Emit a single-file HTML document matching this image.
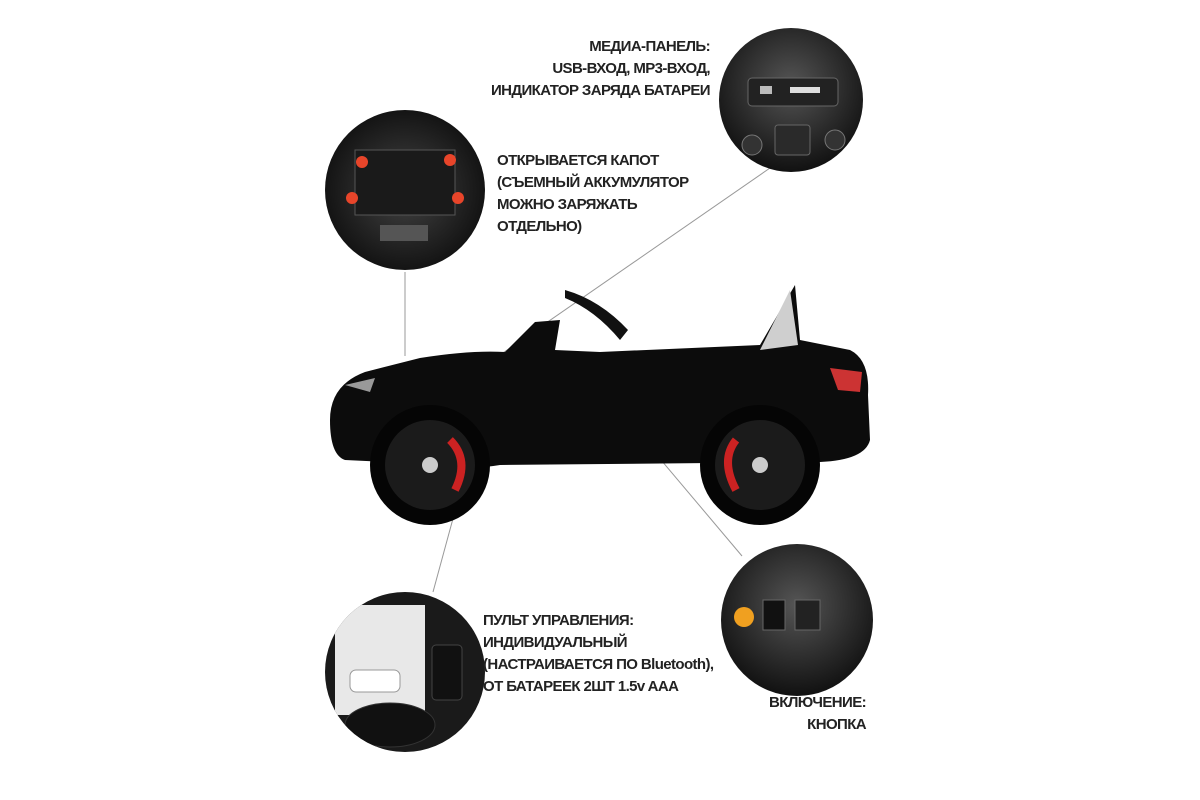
<!DOCTYPE html>
<html><head><meta charset="utf-8"><style>
html,body{margin:0;padding:0;background:#fff;}
#c{position:relative;width:1200px;height:800px;overflow:hidden;background:#fff;font-family:"Liberation Sans",sans-serif;}
.t{position:absolute;font-size:15px;font-weight:bold;color:#222;line-height:22px;letter-spacing:-0.6px;}
.r{text-align:right;}
svg{position:absolute;left:0;top:0;}
</style></head><body><div id="c">
<svg width="1200" height="800" viewBox="0 0 1200 800">
<defs>
<radialGradient id="g1" cx="50%" cy="40%" r="60%"><stop offset="0" stop-color="#555"/><stop offset="1" stop-color="#111"/></radialGradient>
<radialGradient id="g2" cx="50%" cy="50%" r="60%"><stop offset="0" stop-color="#444"/><stop offset="1" stop-color="#0a0a0a"/></radialGradient>
<clipPath id="cl"><circle cx="405" cy="672" r="80"/></clipPath>
</defs>
<g stroke="#999" stroke-width="1" fill="none">
<line x1="405" y1="272" x2="405" y2="356"/>
<line x1="770" y1="168" x2="497" y2="357"/>
<line x1="575" y1="358" x2="742" y2="556"/>
<line x1="433" y1="592" x2="497" y2="357"/>
</g>
<circle cx="791" cy="100" r="72" fill="url(#g1)"/>
<rect x="748" y="78" width="90" height="28" rx="4" fill="#222" stroke="#666"/>
<rect x="760" y="86" width="12" height="8" fill="#bbb"/>
<rect x="790" y="87" width="30" height="6" fill="#ddd"/>
<circle cx="752" cy="145" r="10" fill="#333" stroke="#777"/>
<circle cx="835" cy="140" r="10" fill="#333" stroke="#777"/>
<rect x="775" y="125" width="35" height="30" rx="3" fill="#2a2a2a" stroke="#666"/>
<circle cx="405" cy="190" r="80" fill="url(#g2)"/>
<rect x="355" y="150" width="100" height="65" fill="#1a1a1a" stroke="#555"/>
<circle cx="362" cy="162" r="6" fill="#e8452a"/><circle cx="450" cy="160" r="6" fill="#e8452a"/>
<circle cx="352" cy="198" r="6" fill="#e8452a"/><circle cx="458" cy="198" r="6" fill="#e8452a"/>
<rect x="380" y="225" width="48" height="16" fill="#555"/>
<g clip-path="url(#cl)">
<rect x="320" y="590" width="170" height="170" fill="#1a1a1a"/>
<rect x="335" y="605" width="90" height="110" fill="#e8e8e8"/>
<rect x="350" y="670" width="50" height="22" rx="6" fill="#fff" stroke="#999"/>
<rect x="432" y="645" width="30" height="55" rx="4" fill="#111" stroke="#444"/>
<ellipse cx="390" cy="725" rx="45" ry="22" fill="#111" stroke="#333"/>
</g>
<circle cx="797" cy="620" r="76" fill="url(#g1)"/>
<circle cx="744" cy="617" r="10" fill="#f0a020"/>
<rect x="763" y="600" width="22" height="30" fill="#111" stroke="#666"/>
<rect x="795" y="600" width="25" height="30" fill="#222" stroke="#666"/>
<g>
<path d="M330 420 Q330 385 365 372 L420 358 Q470 350 505 352 L535 322 L560 320 L555 350 L600 352 L760 345 L795 285 L800 340 L850 350 Q870 360 868 395 L870 440 Q865 460 820 462 L500 465 Q470 470 450 465 L345 460 Q330 455 330 420 Z" fill="#0c0c0c"/>
<path d="M565 290 Q600 300 628 330 L620 340 Q595 310 565 298 Z" fill="#111"/>
<path d="M760 350 L790 290 L798 345 Z" fill="#cfcfcf"/>
<path d="M830 368 L862 372 L860 392 L838 390 Z" fill="#c33"/>
<path d="M345 385 L375 378 L370 392 Z" fill="#999"/>
<circle cx="430" cy="465" r="60" fill="#050505"/>
<circle cx="430" cy="465" r="45" fill="#1b1b1b"/>
<circle cx="430" cy="465" r="8" fill="#ccc"/>
<path d="M450 440 Q470 460 455 490" stroke="#c22" stroke-width="8" fill="none"/>
<circle cx="760" cy="465" r="60" fill="#050505"/>
<circle cx="760" cy="465" r="45" fill="#1b1b1b"/>
<circle cx="760" cy="465" r="8" fill="#ccc"/>
<path d="M736 440 Q720 460 736 490" stroke="#c22" stroke-width="8" fill="none"/>
</g>
</svg>
<div class="t r" style="right:490px;top:36px;">МЕДИА-ПАНЕЛЬ:<br>USB-ВХОД, MP3-ВХОД,<br>ИНДИКАТОР ЗАРЯДА БАТАРЕИ</div>
<div class="t" style="left:497px;top:150px;">ОТКРЫВАЕТСЯ КАПОТ<br>(СЪЕМНЫЙ АККУМУЛЯТОР<br>МОЖНО ЗАРЯЖАТЬ<br>ОТДЕЛЬНО)</div>
<div class="t" style="left:483px;top:610px;">ПУЛЬТ УПРАВЛЕНИЯ:<br>ИНДИВИДУАЛЬНЫЙ<br>(НАСТРАИВАЕТСЯ ПО Bluetooth),<br>ОТ БАТАРЕЕК 2ШТ 1.5v AAA</div>
<div class="t r" style="right:334px;top:692px;">ВКЛЮЧЕНИЕ:<br>КНОПКА</div>
</div></body></html>
